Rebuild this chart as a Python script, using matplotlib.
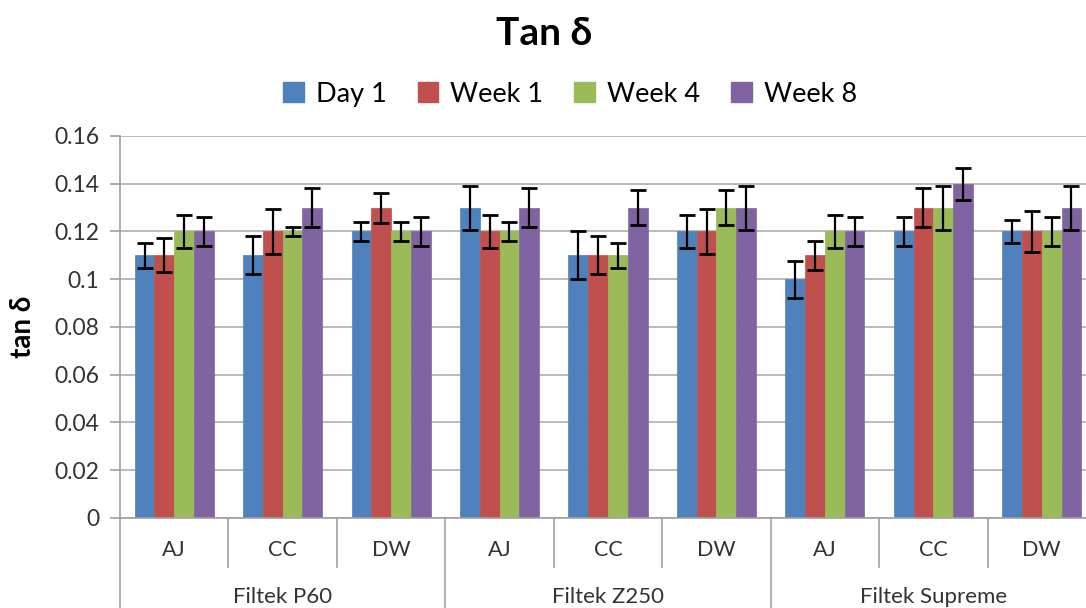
import numpy as np
import matplotlib
matplotlib.use("Agg")
import matplotlib.pyplot as plt
from matplotlib.patches import Patch
import matplotlib.transforms as mtransforms

plt.rcParams['font.family'] = ['Lato', 'DejaVu Sans']

materials = ["Filtek P60", "Filtek Z250", "Filtek Supreme"]
media = ["AJ", "CC", "DW"]
series = ["Day 1", "Week 1", "Week 4", "Week 8"]
colors = ["#4F81BD", "#C0504D", "#9BBB59", "#8064A2"]

# mean values per series, 9 groups (P60 AJ/CC/DW, Z250 AJ/CC/DW, Supreme AJ/CC/DW)
day1 = [0.11, 0.11, 0.12, 0.13, 0.11, 0.12, 0.10, 0.12, 0.12]
week1 = [0.11, 0.12, 0.13, 0.12, 0.11, 0.12, 0.11, 0.13, 0.12]
week4 = [0.12, 0.12, 0.12, 0.12, 0.11, 0.13, 0.12, 0.13, 0.12]
week8 = [0.12, 0.13, 0.12, 0.13, 0.13, 0.13, 0.12, 0.14, 0.13]

# error bar half-lengths
day1_err = [0.0052, 0.0080, 0.0038, 0.0092, 0.0101, 0.0070, 0.0078, 0.0059, 0.0050]
week1_err = [0.0071, 0.0093, 0.0063, 0.0070, 0.0080, 0.0093, 0.0062, 0.0082, 0.0085]
week4_err = [0.0070, 0.0019, 0.0038, 0.0038, 0.0051, 0.0073, 0.0070, 0.0092, 0.0059]
week8_err = [0.0059, 0.0082, 0.0059, 0.0082, 0.0073, 0.0092, 0.0059, 0.0068, 0.0092]

values = [day1, week1, week4, week8]
errors = [day1_err, week1_err, week4_err, week8_err]

fig = plt.figure(figsize=(10.86, 6.08), dpi=100)
ax = fig.add_axes([0.1105, 0.14803, 0.89871, 0.62829])

n = len(day1)
x = np.arange(n)
w = 0.1825
for i, (vals, errs, col) in enumerate(zip(values, errors, colors)):
    pos = x + (i - 1.5) * w
    ax.bar(pos, vals, width=w, color=col, edgecolor=col, linewidth=0.5, zorder=2)
    ax.errorbar(pos, vals, yerr=errs, fmt='none', ecolor='black', elinewidth=1.6,
                capsize=6, capthick=2, zorder=3)

ax.set_xlim(-0.5, n - 0.5)
ax.set_ylim(0, 0.16)
ax.set_yticks(np.arange(0, 0.161, 0.02))
ax.set_yticklabels(["0", "0.02", "0.04", "0.06", "0.08", "0.1", "0.12", "0.14", "0.16"])
ax.tick_params(axis='y', labelsize=16.5, length=7, color='#a0a0a0', width=1.2, pad=8,
               labelcolor='#333333')
ax.set_xticks([])
ax.grid(axis='y', color='#b4b4b4', linewidth=1.3, zorder=0)
ax.set_axisbelow(True)
for s in ['top', 'right']:
    ax.spines[s].set_visible(False)
ax.spines['left'].set_color('#a0a0a0')
ax.spines['bottom'].set_color('#a0a0a0')
ax.spines['left'].set_linewidth(1.2)
ax.spines['bottom'].set_linewidth(1.2)

# multi-level category axis
trans = mtransforms.blended_transform_factory(ax.transData, ax.transAxes)
for k in range(n):
    ax.text(k, -0.085, media[k % 3], transform=trans, ha='center', va='center',
            fontsize=15.5, color='#333333')
for b in range(1, n):
    bottom = -0.30 if b % 3 == 0 else -0.128
    ax.plot([b - 0.5, b - 0.5], [0, bottom], transform=trans, color='#a0a0a0',
            lw=1.2, clip_on=False)
ax.plot([-0.5, -0.5], [0, -0.30], transform=trans, color='#a0a0a0', lw=1.2, clip_on=False)
for m, name in enumerate(materials):
    ax.text(3 * m + 1, -0.208, name, transform=trans, ha='center', va='center',
            fontsize=16, color='#333333')

ax.set_ylabel("tan δ", fontsize=20, fontweight='bold')
ax.yaxis.set_label_coords(-0.086, 0.5)

fig.text(0.501, 0.945, "Tan δ", ha='center', va='center', fontsize=28, fontweight='bold')

handles = [Patch(facecolor=c, edgecolor=c) for c in colors]
fig.legend(handles, series, loc='center', bbox_to_anchor=(0.525, 0.845), ncol=4,
           frameon=False, fontsize=19.5, handlelength=0.75, handleheight=0.75,
           handletextpad=0.45, columnspacing=1.15)

fig.savefig("out.png", dpi=100)
